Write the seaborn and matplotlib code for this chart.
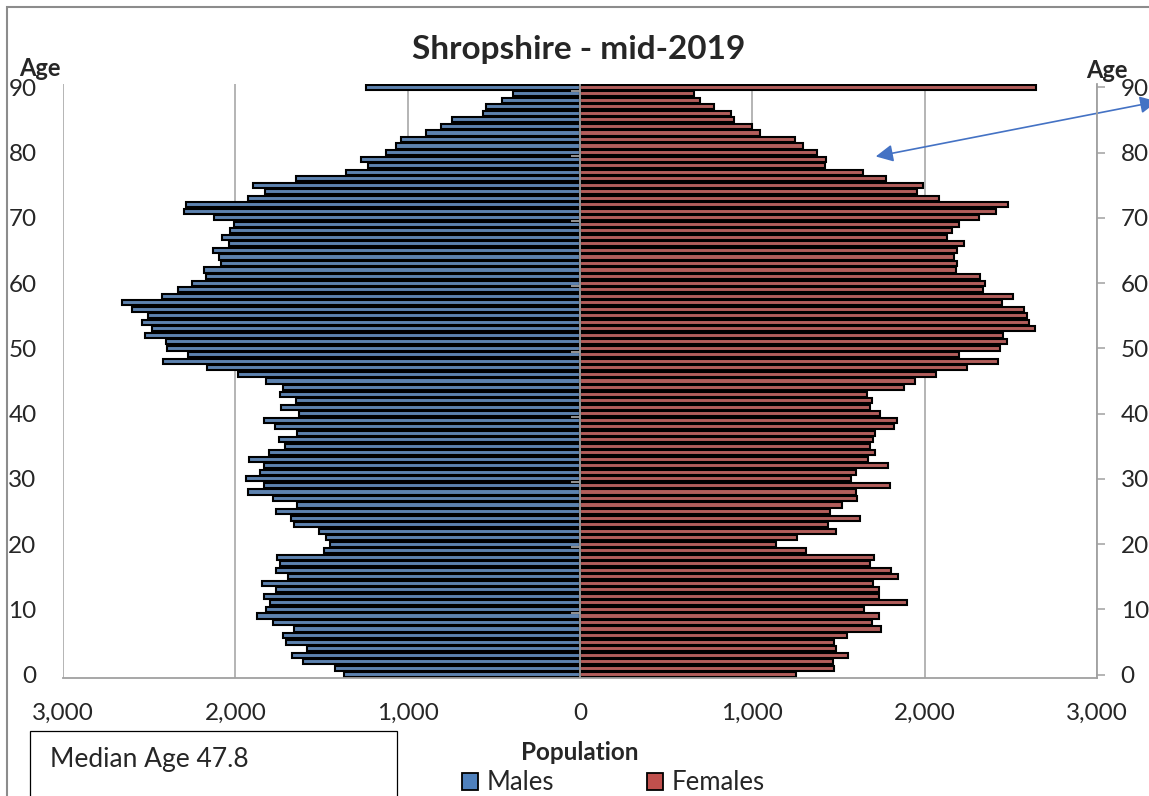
import numpy as np
import pandas as pd
import seaborn as sns
import matplotlib.pyplot as plt
from matplotlib.patches import Patch, Rectangle

# single years of age 0..90 (90 = 90 and over)
ages = list(range(0, 91))

males = [
    1370, 1421, 1610, 1669, 1587, 1707, 1725, 1659, 1781, 1874,
    1822, 1798, 1835, 1765, 1843, 1696, 1764, 1742, 1760, 1483,
    1448, 1473, 1516, 1657, 1678, 1762, 1643, 1781, 1924, 1835,
    1940, 1855, 1833, 1919, 1806, 1711, 1744, 1643, 1767, 1835,
    1628, 1733, 1647, 1742, 1725, 1820, 1986, 2167, 2422, 2277,
    2397, 2405, 2523, 2483, 2543, 2506, 2601, 2655, 2428, 2335,
    2254, 2171, 2182, 2085, 2097, 2130, 2035, 2080, 2031, 2006,
    2122, 2295, 2287, 1928, 1829, 1897, 1647, 1357, 1229, 1273,
    1124, 1068, 1037, 891, 806, 740, 562, 543, 450, 388,
    1240,
]

females = [
    1256, 1471, 1469, 1558, 1483, 1475, 1550, 1744, 1694, 1736,
    1647, 1895, 1736, 1733, 1700, 1843, 1806, 1680, 1705, 1310,
    1138, 1262, 1486, 1440, 1624, 1450, 1521, 1605, 1603, 1800,
    1572, 1600, 1787, 1674, 1711, 1684, 1700, 1709, 1822, 1841,
    1742, 1680, 1696, 1663, 1880, 1942, 2066, 2246, 2426, 2200,
    2438, 2477, 2457, 2643, 2605, 2593, 2578, 2446, 2512, 2341,
    2349, 2322, 2184, 2186, 2171, 2190, 2229, 2128, 2157, 2201,
    2316, 2413, 2486, 2083, 1957, 1992, 1775, 1640, 1421, 1426,
    1378, 1295, 1250, 1043, 1000, 893, 876, 775, 694, 659,
    2645,
]

sexes = ["Males", "Females"]
colors = {"Males": "#4F81BD", "Females": "#C0504D"}
x_ticks = [-3000, -2000, -1000, 0, 1000, 2000, 3000]
age_ticks = list(range(0, 91, 10))
title = "Shropshire - mid-2019"
median_text = "Median Age 47.8"

df = pd.DataFrame({
    "age": ages * 2,
    "population": [-m for m in males] + females,
    "sex": ["Males"] * len(ages) + ["Females"] * len(ages),
})

sns.set_style("white")
plt.rcParams["font.family"] = ["Lato", "DejaVu Sans"]

W, H = 1149, 796
fig = plt.figure(figsize=(W / 100, H / 100), dpi=100)
ax = fig.add_axes([63 / W, 1 - 678 / H, (1097 - 63) / W, (678 - 84) / H])

grid_col = "#A0A0A0"
for xt in x_ticks:
    ax.axvline(xt, color=grid_col, lw=1.1, zorder=0)

sns.barplot(
    data=df, x="population", y="age", hue="sex", orient="y",
    native_scale=True, dodge=False, palette=colors, width=0.78,
    edgecolor="black", linewidth=1.5, legend=False, ax=ax, zorder=2,
)

ax.set_xlim(-3000, 3000)
ax.set_ylim(-0.5, 90.5)

# central category axis with a tick every 10 years
ax.axvline(0, color=grid_col, lw=1.3, zorder=5)
ax.hlines(np.arange(9.5, 90, 10), -55, 0, color=grid_col, lw=1.3, zorder=5)

ax.set_xticks(x_ticks)
ax.set_xticklabels([f"{abs(v):,}" for v in x_ticks], fontsize=17.5)
ax.set_yticks(age_ticks)
ax.set_yticklabels([str(a) for a in age_ticks], fontsize=17.5)
ax.tick_params(axis="x", length=5, color=grid_col, width=1.1, pad=13)
ax.tick_params(axis="y", length=0, pad=19)
ax.set_xlabel("")
ax.set_ylabel("")
for side in ["top", "left", "right"]:
    ax.spines[side].set_visible(False)
ax.spines["bottom"].set_color(grid_col)
ax.spines["bottom"].set_linewidth(1.3)

ax2 = ax.twinx()
ax2.set_ylim(ax.get_ylim())
ax2.set_yticks(age_ticks)
ax2.set_yticklabels([str(a) for a in age_ticks], fontsize=17.5)
ax2.tick_params(axis="y", length=6, color=grid_col, width=1.1, pad=11)
for side in ["top", "left", "bottom"]:
    ax2.spines[side].set_visible(False)
ax2.spines["right"].set_color(grid_col)
ax2.spines["right"].set_linewidth(1.3)

fig.text(579 / W, 1 - 50 / H, title, fontsize=24, fontweight="bold",
         ha="center", va="center")
fig.text(40 / W, 1 - 69 / H, "Age", fontsize=17, fontweight="bold",
         ha="center", va="center")
fig.text(1107 / W, 1 - 71 / H, "Age", fontsize=17, fontweight="bold",
         ha="center", va="center")
fig.text(580 / W, 1 - 753 / H, "Population", fontsize=17.5, fontweight="bold",
         ha="center", va="center")

# outer chart frame and median box
fig.add_artist(Rectangle((7 / W, -0.1), 1.2, (H - 7) / H + 0.1,
                         transform=fig.transFigure, fill=False,
                         edgecolor="#8C8C8C", lw=1.5))
fig.add_artist(Rectangle((30 / W, -0.1), (397 - 30) / W, 0.1 + 1 - 731 / H,
                         transform=fig.transFigure, fill=False,
                         edgecolor="black", lw=0.9))
fig.text(50 / W, 1 - 760 / H, median_text, fontsize=19, ha="left", va="center")

ax.annotate("", xy=(873, H - 157), xytext=(1160, H - 101),
            xycoords="figure pixels", textcoords="figure pixels",
            annotation_clip=False,
            arrowprops=dict(arrowstyle="<|-|>", color="#4472C4", lw=1.2,
                            mutation_scale=26))

handles = [Patch(facecolor=colors[s], edgecolor="black", lw=1.3, label=s)
           for s in sexes]
fig.legend(handles=handles, loc="center left", ncol=2, frameon=False,
           bbox_to_anchor=(462 / W, 1 - 783 / H), fontsize=18.5,
           handlelength=0.62, handleheight=0.62, handletextpad=0.35,
           columnspacing=3.6, borderpad=0, borderaxespad=0)

fig.savefig("out.png", dpi=100)
